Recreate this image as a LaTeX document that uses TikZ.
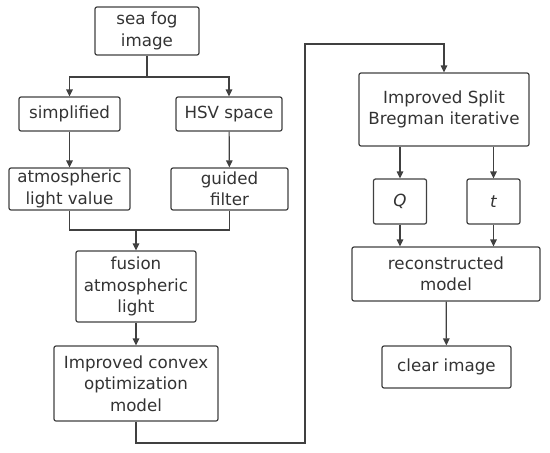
\documentclass[tikz,border=0pt]{standalone}
\usepackage{fontspec}
\setmainfont{DejaVu Sans}
\usetikzlibrary{arrows.meta}
\definecolor{ln}{HTML}{404040}
\definecolor{tx}{HTML}{333333}
\tikzset{
  box/.style={draw=ln, line width=1.2pt, rounded corners=2pt, align=center, inner sep=0pt,
    text=tx, font=\fontsize{16.7}{21.5}\selectfont},
  conn/.style={draw=ln, line width=1.2pt},
  arr/.style={conn, -{Triangle[length=7pt,width=6.5pt]}}
}
\begin{document}
\begin{tikzpicture}[x=1pt,y=-1pt]
\useasboundingbox (0,0) rectangle (550,453);
\node[box, minimum width=104pt, minimum height=48pt] (sea) at (147,31) {sea fog\\image};
\node[box, minimum width=101pt, minimum height=34pt] (simp) at (69.5,114) {simplified};
\node[box, minimum width=106pt, minimum height=34pt] (hsv) at (229,114) {HSV space};
\node[box, minimum width=121pt, minimum height=42pt] (atm) at (69.5,189) {atmospheric\\light value};
\node[box, minimum width=117pt, minimum height=42pt] (guided) at (229.5,189) {guided\\filter};
\node[box, minimum width=120pt, minimum height=71pt] (fusion) at (136,286.5) {fusion\\atmospheric\\light};
\node[box, minimum width=164pt, minimum height=75pt] (convex) at (136,383.5) {Improved convex\\optimization\\model};
\node[box, minimum width=170pt, minimum height=73pt] (split) at (444,109.5) {Improved Split\\Bregman iterative};
\node[box, minimum width=53pt, minimum height=45pt] (Q) at (400,201.5) {\itshape Q};
\node[box, minimum width=53pt, minimum height=45pt] (t) at (493.5,201.5) {\itshape t};
\node[box, minimum width=188pt, minimum height=54pt] (recon) at (446,274) {reconstructed\\model};
\node[box, minimum width=129pt, minimum height=42pt] (clear) at (446.5,367) {clear image};

\coordinate (j1) at (147,77);
\coordinate (j2) at (136,230);
\coordinate (b1) at (136,443);
\coordinate (b2) at (305,443);
\coordinate (b3) at (305,44);
\coordinate (b4) at (444,44);

\draw[conn] (sea) -- (j1);
\draw[arr] (j1) -| (simp);
\draw[arr] (j1) -| (hsv);
\draw[arr] (simp) -- (atm);
\draw[arr] (hsv) -- (guided);
\draw[conn] (atm.south) |- (j2);
\draw[conn] (guided.south) |- (j2);
\draw[arr] (j2) -- (fusion);
\draw[arr] (fusion) -- (convex);
\draw[arr] (convex.south) -- (b1) -- (b2) -- (b3) -- (b4) -- (split.north);
\draw[arr] (split.south -| Q) -- (Q);
\draw[arr] (split.south -| t) -- (t);
\draw[arr] (Q) -- (Q |- recon.north);
\draw[arr] (t) -- (t |- recon.north);
\draw[arr] (recon) -- (clear);
\end{tikzpicture}
\end{document}
